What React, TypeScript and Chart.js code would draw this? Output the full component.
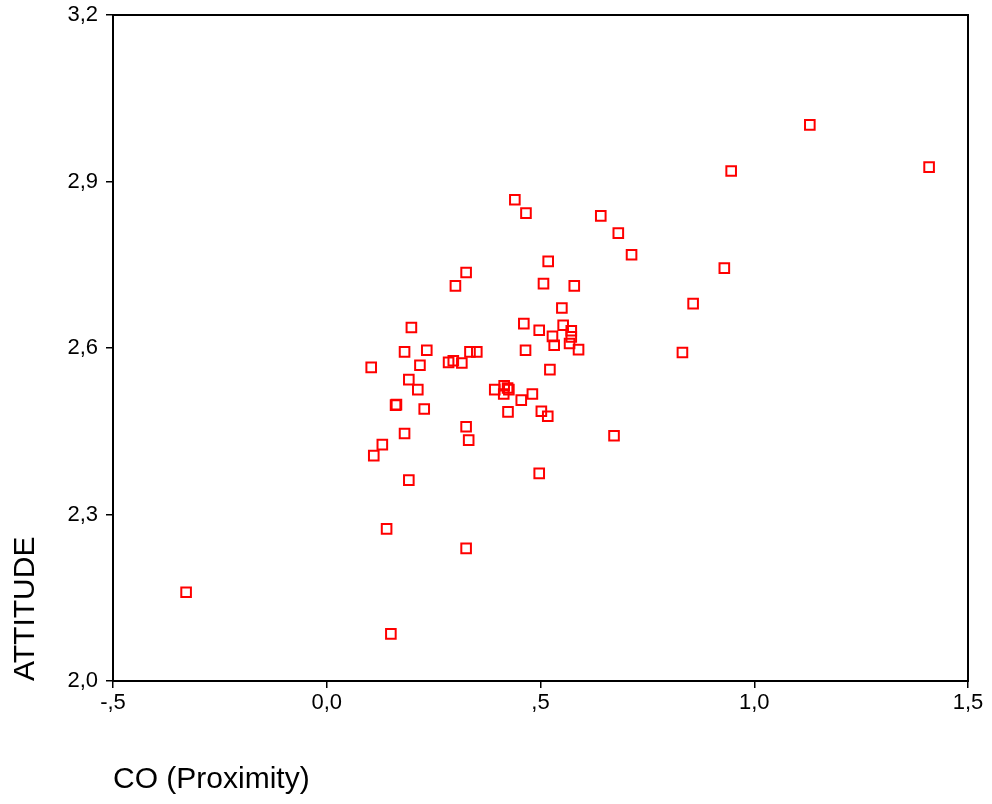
import React, { useEffect, useRef } from "react";
import { Chart, registerables } from "chart.js";

Chart.register(...registerables);

// CO (Proximity) values
const coValues: number[] = [
  -0.329, 1.130, 1.409, 0.946, 0.440, 0.466, 0.641, 0.682, 0.713, 0.518,
  0.326, 0.301, 0.507, 0.579, 0.930, 0.857, 0.550, 0.832, 0.672, 0.461,
  0.497, 0.553, 0.528, 0.572, 0.572, 0.532, 0.568, 0.589, 0.465, 0.522,
  0.198, 0.182, 0.234, 0.104, 0.218, 0.192, 0.285, 0.296, 0.316, 0.335,
  0.351, 0.213, 0.161, 0.163, 0.228, 0.393, 0.415, 0.423, 0.426, 0.414,
  0.455, 0.481, 0.424, 0.502, 0.517, 0.326, 0.332, 0.182, 0.130, 0.110,
  0.497, 0.192, 0.140, 0.326, 0.150,
];

// ATTITUDE values
const attitudeValues: number[] = [
  2.160, 3.002, 2.926, 2.919, 2.867, 2.843, 2.838, 2.807, 2.768, 2.756,
  2.736, 2.712, 2.716, 2.712, 2.744, 2.680, 2.672, 2.592, 2.442, 2.644,
  2.632, 2.641, 2.621, 2.631, 2.620, 2.605, 2.608, 2.597, 2.596, 2.561,
  2.637, 2.593, 2.596, 2.565, 2.569, 2.543, 2.574, 2.577, 2.573, 2.593,
  2.593, 2.525, 2.497, 2.498, 2.490, 2.525, 2.532, 2.528, 2.525, 2.517,
  2.506, 2.517, 2.485, 2.486, 2.477, 2.458, 2.434, 2.446, 2.426, 2.406,
  2.374, 2.362, 2.274, 2.239, 2.085,
];

const xTicks: number[] = [-0.5, 0, 0.5, 1.0, 1.5];
const xTickLabels: string[] = ["-,5", "0,0", ",5", "1,0", "1,5"];
const yTicks: number[] = [2.0, 2.3, 2.6, 2.9, 3.2];
const yTickLabels: string[] = ["2,0", "2,3", "2,6", "2,9", "3,2"];

const xTitle = "CO (Proximity)";
const yTitle = "ATTITUDE";

const FONT = "'Liberation Sans', Arial, Helvetica, sans-serif";

function labelFor(v: number, ticks: number[], labels: string[]): string {
  let best = 0;
  for (let i = 0; i < ticks.length; i++) {
    if (Math.abs(ticks[i] - v) < Math.abs(ticks[best] - v)) best = i;
  }
  return labels[best];
}

const framePlugin = {
  id: "frame",
  afterDraw(chart: any) {
    const { ctx, chartArea } = chart;
    ctx.save();
    ctx.strokeStyle = "#000000";
    ctx.lineWidth = 2;
    ctx.strokeRect(
      chartArea.left,
      chartArea.top,
      chartArea.right - chartArea.left,
      chartArea.bottom - chartArea.top
    );
    ctx.restore();
  },
};

export default function App() {
  const canvasRef = useRef<HTMLCanvasElement | null>(null);

  useEffect(() => {
    if (!canvasRef.current) return;
    const points = coValues.map((x, i) => ({ x, y: attitudeValues[i] }));
    const chart = new Chart(canvasRef.current, {
      type: "scatter",
      data: {
        datasets: [
          {
            data: points,
            pointStyle: "rect",
            pointRadius: 6.8,
            pointHoverRadius: 6.8,
            borderColor: "#ff0000",
            backgroundColor: "rgba(0,0,0,0)",
            borderWidth: 2,
          },
        ],
      },
      options: {
        animation: false,
        responsive: false,
        maintainAspectRatio: false,
        layout: { padding: { top: 15, right: 24, left: 0, bottom: 0 } },
        plugins: {
          legend: { display: false },
          tooltip: { enabled: false },
        },
        scales: {
          x: {
            type: "linear",
            min: -0.5,
            max: 1.5,
            afterBuildTicks: (scale: any) => {
              scale.ticks = xTicks.map((v) => ({ value: v }));
            },
            afterFit: (scale: any) => {
              scale.height = 123;
              scale.paddingLeft = 0;
              scale.paddingRight = 0;
            },
            grid: {
              display: true,
              drawOnChartArea: false,
              drawTicks: true,
              tickLength: 7,
              color: "#000000",
              lineWidth: 1.5,
            },
            border: { display: false },
            ticks: {
              padding: 2,
              color: "#000000",
              font: { family: FONT, size: 22 },
              maxRotation: 0,
              autoSkip: false,
              callback: (v: any) => labelFor(Number(v), xTicks, xTickLabels),
            },
            title: {
              display: true,
              text: xTitle,
              align: "start",
              color: "#000000",
              font: { family: FONT, size: 30 },
              padding: { top: 0, bottom: 6 },
            },
          },
          y: {
            type: "linear",
            min: 2.0,
            max: 3.2,
            afterBuildTicks: (scale: any) => {
              scale.ticks = yTicks.map((v) => ({ value: v }));
            },
            afterFit: (scale: any) => {
              scale.width = 113;
              scale.paddingTop = 0;
              scale.paddingBottom = 0;
            },
            grid: {
              display: true,
              drawOnChartArea: false,
              drawTicks: true,
              tickLength: 7,
              color: "#000000",
              lineWidth: 1.5,
            },
            border: { display: false },
            ticks: {
              padding: 8,
              color: "#000000",
              font: { family: FONT, size: 22 },
              autoSkip: false,
              callback: (v: any) => labelFor(Number(v), yTicks, yTickLabels),
            },
            title: {
              display: true,
              text: yTitle,
              align: "start",
              color: "#000000",
              font: { family: FONT, size: 30 },
              padding: { top: 8, bottom: 0 },
            },
          },
        },
      },
      plugins: [framePlugin],
    });
    return () => chart.destroy();
  }, []);

  return (
    <div
      style={{
        position: "fixed",
        left: 0,
        top: 0,
        width: 992,
        height: 804,
        background: "#ffffff",
      }}
    >
      <canvas ref={canvasRef} width={992} height={804} style={{ display: "block" }} />
    </div>
  );
}
